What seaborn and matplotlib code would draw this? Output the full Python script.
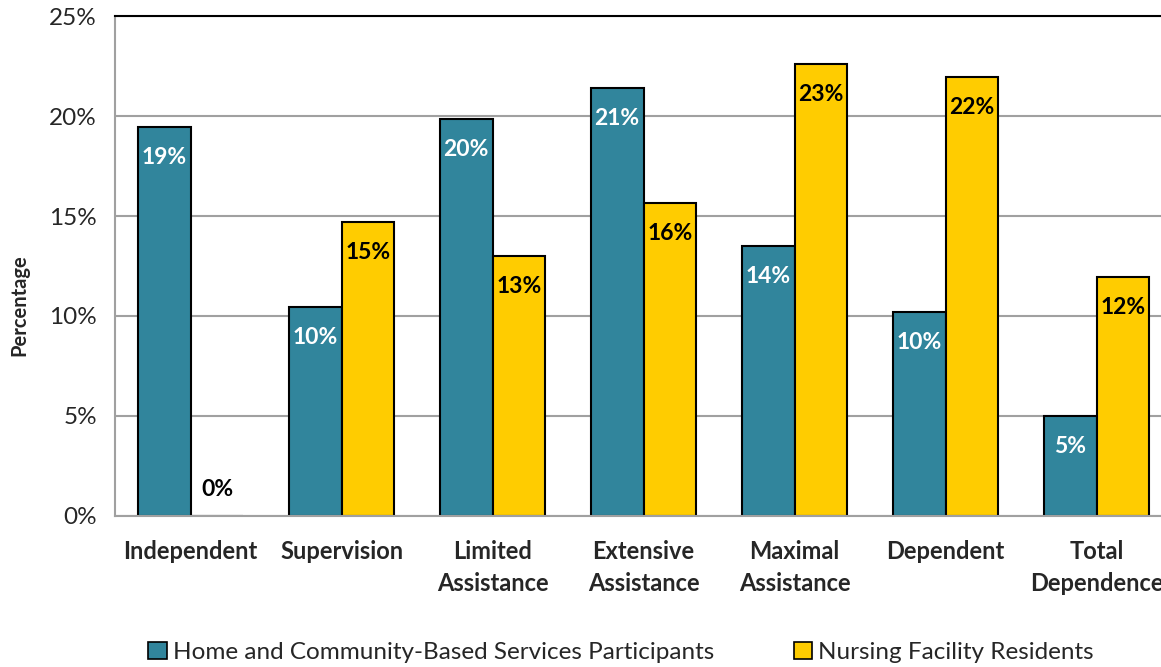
import seaborn as sns
import matplotlib.pyplot as plt
import matplotlib.patches as mpatches
import pandas as pd

# Values
categories = ["Independent", "Supervision", "Limited\nAssistance", "Extensive\nAssistance",
              "Maximal\nAssistance", "Dependent", "Total\nDependence"]
hcbs = [19.45, 10.45, 19.85, 21.4, 13.5, 10.2, 5.0]
nursing = [0.0, 14.7, 13.0, 15.65, 22.6, 21.95, 11.95]
labels_hcbs = ["19%", "10%", "20%", "21%", "14%", "10%", "5%"]
labels_nf = ["0%", "15%", "13%", "16%", "23%", "22%", "12%"]
series = ["Home and Community-Based Services Participants", "Nursing Facility Residents"]
colors = ["#31859C", "#FFCC00"]

sns.set_style("white")
plt.rcParams['font.family'] = ['Lato', 'DejaVu Sans']

df = pd.DataFrame({
    "category": categories * 2,
    "value": hcbs + nursing,
    "series": [series[0]] * len(categories) + [series[1]] * len(categories),
})

fig = plt.figure(figsize=(11.61, 6.67), dpi=100)
ax = fig.add_axes([0.0991, 0.2264, 0.9104, 0.7496])

sns.barplot(data=df, x="category", y="value", hue="series", palette=colors,
            saturation=1, width=0.7, edgecolor="black", linewidth=1.5, ax=ax, legend=False)

ax.set_ylim(0, 25)
ax.set_xlim(-0.5, len(categories) - 0.5)
ax.set_yticks([0, 5, 10, 15, 20, 25])
ax.set_yticklabels([f"{v}%" for v in [0, 5, 10, 15, 20, 25]], fontsize=17.5)
ax.yaxis.grid(True, color="#A0A0A0", linewidth=1.5)
ax.set_axisbelow(True)

# category boundaries get ticks, centers get labels
ax.set_xticks([i - 0.5 for i in range(len(categories) + 1)])
ax.set_xticklabels([])
ax.set_xticks(range(len(categories)), minor=True)
ax.set_xticklabels(categories, minor=True, fontsize=17, fontweight="bold", linespacing=1.5)
ax.tick_params(axis="x", which="minor", length=0, pad=17)
ax.tick_params(axis="x", which="major", length=7, width=1.5, color="#A0A0A0", direction="out")
ax.tick_params(axis="y", length=7, width=1.5, color="#A0A0A0", direction="out", pad=6)
ax.set_xlabel("")
ax.set_ylabel("Percentage", fontsize=14.5, fontweight="bold")
ax.yaxis.set_label_coords(-0.0815, 0.422)

for s in ["left", "bottom"]:
    ax.spines[s].set_color("#A0A0A0")
    ax.spines[s].set_linewidth(1.5)
ax.spines["top"].set_color("black")
ax.spines["top"].set_linewidth(1.5)
ax.spines["right"].set_visible(False)

# bar labels
for cont, labs, tc in zip(ax.containers, [labels_hcbs, labels_nf], ["white", "black"]):
    for bar, lab in zip(cont, labs):
        h = bar.get_height()
        x = bar.get_x() + bar.get_width() / 2
        if h > 0:
            ax.annotate(lab, (x, h), xytext=(0, -22), textcoords="offset points",
                        ha="center", va="center", fontsize=16.5, fontweight="bold", color=tc)
        else:
            ax.annotate(lab, (x, h), xytext=(0, 19), textcoords="offset points",
                        ha="center", va="center", fontsize=16.5, fontweight="bold", color="black")

handles = [mpatches.Patch(facecolor=c, edgecolor="black", linewidth=1.2, label=s)
           for c, s in zip(colors, series)]
fig.legend(handles=handles, loc="center", bbox_to_anchor=(0.535, 0.022), ncol=2,
           frameon=False, fontsize=17.5, handlelength=0.75, handleheight=0.75,
           handletextpad=0.25, columnspacing=3.3)

fig.savefig("out.png", dpi=100)
